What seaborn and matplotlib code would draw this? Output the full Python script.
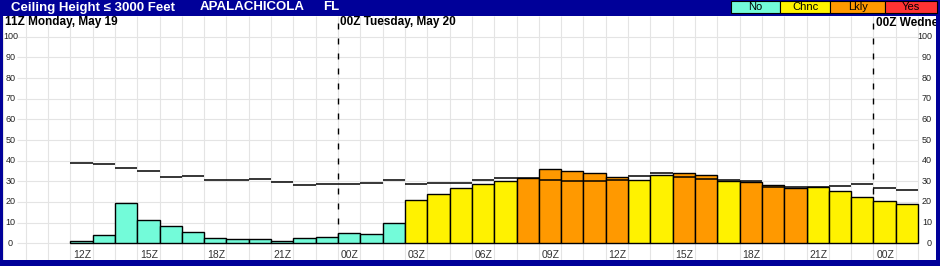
import matplotlib
matplotlib.use("Agg")
import matplotlib.pyplot as plt
import seaborn as sns
import pandas as pd
import numpy as np
from matplotlib.patches import Rectangle

# ---------------- data ----------------
hours = list(range(12, 50))  # hour offsets from 00Z Monday (12Z Mon .. 01Z Wed)
ceiling_prob = [1.0, 3.9, 19.4, 11.1, 8.2, 5.3, 2.4, 1.9, 1.9, 1.0, 2.4, 2.9,
                4.8, 4.4, 9.7, 20.8, 23.7, 26.6, 28.6, 30.0, 31.5, 35.8, 34.9, 33.9,
                32.0, 30.5, 32.9, 33.9, 32.9, 30.0, 29.5, 28.1, 26.6, 27.1, 25.2, 22.3,
                20.3, 18.9]
ref_line = [38.7, 38.2, 36.3, 34.9, 32.0, 32.4, 30.5, 30.5, 31.0, 29.5, 28.1, 28.6,
            28.9, 29.4, 30.7, 28.9, 29.2, 29.2, 30.5, 31.5, 31.5, 30.5, 30.0, 30.0,
            30.5, 32.4, 33.9, 32.0, 31.0, 30.5, 30.0, 27.1, 27.1, 27.1, 27.6, 28.6,
            26.6, 25.7]
category = (["No"] * 15 + ["Chnc"] * 5 + ["Lkly"] * 5 + ["Chnc"] * 2 + ["Lkly"] * 2
            + ["Chnc"] + ["Lkly"] * 3 + ["Chnc"] * 5)
tick_hours = [12, 15, 18, 21, 24, 27, 30, 33, 36, 39, 42, 45, 48]
tick_labels = ["12Z", "15Z", "18Z", "21Z", "00Z", "03Z", "06Z", "09Z", "12Z",
               "15Z", "18Z", "21Z", "00Z"]
day_hours = [24, 48]
day_labels = ["11Z Monday, May 19", "00Z Tuesday, May 20", "00Z Wedne"]
y_ticks = [0, 10, 20, 30, 40, 50, 60, 70, 80, 90, 100]
legend_names = ["No", "Chnc", "Lkly", "Yes"]
legend_colors = ["#73FBD9", "#FFF200", "#FF9900", "#FF3333"]
title_parts = ["Ceiling Height \u2264 3000 Feet", "APALACHICOLA", "FL"]

# ---------------- style ----------------
sns.set_style("white")
plt.rcParams["font.family"] = ["Liberation Sans", "DejaVu Sans"]

W, H = 940, 266
NAVY = "#000099"
fig = plt.figure(figsize=(W / 100, H / 100), dpi=100, facecolor=NAVY)

ax_l, ax_r, ax_t, ax_b = 3, 936, 16, 259.5
ax = fig.add_axes([ax_l / W, (H - ax_b) / H, (ax_r - ax_l) / W, (ax_b - ax_t) / H])
ax.set_facecolor("white")

# pixel mapping helpers (layout only)
px_per_h = 22.31
x12 = 70.3
def hx(px):
    return 12 + (px - x12) / px_per_h
y0px, px_per_unit = 243.3, 2.065
def vy(py):
    return (y0px - py) / px_per_unit

xmin, xmax = hx(ax_l), hx(ax_r)
ymin, ymax = vy(ax_b), vy(ax_t)

palette = dict(zip(legend_names, legend_colors))
df = pd.DataFrame({"hour": np.array(hours) + 0.5, "prob": ceiling_prob, "cat": category})
sns.barplot(data=df, x="hour", y="prob", hue="cat", palette=palette, native_scale=True,
            width=1, dodge=False, edgecolor="black", linewidth=1.0, legend=False,
            errorbar=None, saturation=1, ax=ax, zorder=3)

# grid
grid_c = "#E4E4E4"
ax.vlines(np.arange(9, 51), ymin, ymax, colors=grid_c, lw=0.8, zorder=0)
ax.hlines(y_ticks, hx(17), 50, colors=grid_c, lw=0.8, zorder=0)

# day dashed lines
for d in day_hours:
    ax.vlines(d, vy(23), 0, colors="black", lw=1.0, linestyles=(0, (4.3, 6.5)), zorder=2)

# reference step line
ax.hlines(ref_line, np.array(hours), np.array(hours) + 1, colors="black", lw=1.1, zorder=4)

ax.set_xlim(xmin, xmax)
ax.set_ylim(ymin, ymax)
ax.set_xticks([])
ax.set_yticks([])
ax.set_xlabel("")
ax.set_ylabel("")
for s in ax.spines.values():
    s.set_visible(False)

# x labels
for h, lab in zip(tick_hours, tick_labels):
    ax.text(h + 0.12, vy(255.5), lab, fontsize=7.5, color="#333333", ha="left", va="center")

# y labels
for v in y_ticks:
    ax.text(hx(10.5), v, str(v), fontsize=6.5, color="#222222", ha="center", va="center")
    ax.text(hx(932), v, str(v), fontsize=6.5, color="#222222", ha="right", va="center")

# day labels
day_x = [hx(5), hx(340), hx(876)]
for x, lab in zip(day_x, day_labels):
    ax.text(x, vy(16.5), lab, fontsize=8.5, fontweight="bold", color="black",
            ha="left", va="top", clip_on=True)

# title bar
title_x = [11, 200, 323]
for x, lab in zip(title_x, title_parts):
    fig.text(x / W, 1 - 7.5 / H, lab, color="white", fontsize=9.5, fontweight="bold",
             ha="left", va="center")

# legend boxes
edges = [730.7, 780.3, 830.0, 885.3, 937.3]
for i, (name, col) in enumerate(zip(legend_names, legend_colors)):
    x0, x1 = edges[i], edges[i + 1]
    fig.add_artist(Rectangle((x0 / W, 1 - 13 / H), (x1 - x0) / W, 12 / H,
                             transform=fig.transFigure, facecolor=col,
                             edgecolor="black", lw=0.8))
    fig.text((x0 + x1) / 2 / W, 1 - 7.3 / H, name, color="black", fontsize=8,
             ha="center", va="center")

fig.savefig("out.png", dpi=100, facecolor=NAVY)
